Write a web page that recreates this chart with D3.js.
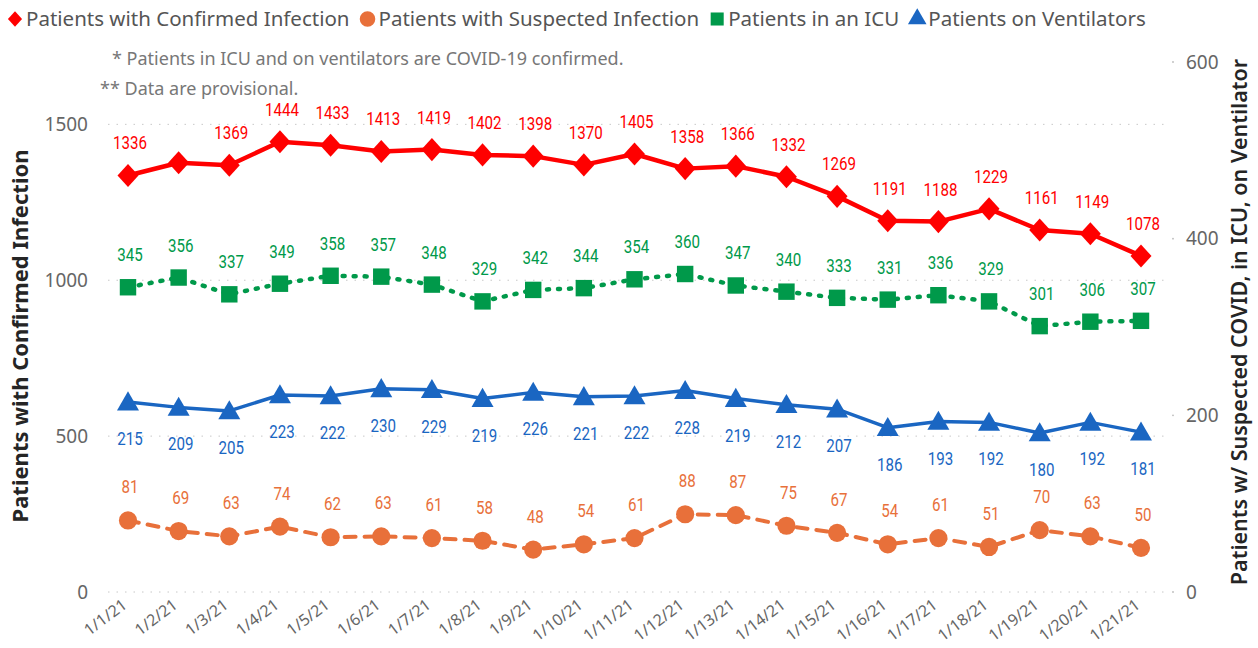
<!DOCTYPE html>
<html>
<head>
<meta charset="utf-8">
<title></title>
<script src="https://d3js.org/d3.v7.min.js"></script>
<style>
  body { margin: 0; background: #fff; }
  text { font-family: "Noto Sans", "Open Sans", sans-serif; }
  .grid line { stroke: #c8c8c8; stroke-dasharray: 1.5,7; }
  .tick-lbl { fill: #666; font-size: 19px; }
  .xlbl { fill: #666; font-size: 16px; }
  .legend text { fill: #555; font-size: 20.5px; }
  .note { fill: #777; font-size: 18px; }
  .dlbl { font-size: 18px; text-anchor: middle; font-family: "Roboto", sans-serif; }
</style>
</head>
<body>
<script>
// data
var dates = ["1/1/21","1/2/21","1/3/21","1/4/21","1/5/21","1/6/21","1/7/21","1/8/21","1/9/21","1/10/21","1/11/21",
             "1/12/21","1/13/21","1/14/21","1/15/21","1/16/21","1/17/21","1/18/21","1/19/21","1/20/21","1/21/21"];
var confirmed = [1336,1377,1369,1444,1433,1413,1419,1402,1398,1370,1405,1358,1366,1332,1269,1191,1188,1229,1161,1149,1078];
var confirmedHiddenLabels = [1]; // no label drawn for 1/2 in the original
var suspected = [81,69,63,74,62,63,61,58,48,54,61,88,87,75,67,54,61,51,70,63,50];
var icu = [345,356,337,349,358,357,348,329,342,344,354,360,347,340,333,331,336,329,301,306,307];
var ventilators = [215,209,205,223,222,230,229,219,226,221,222,228,219,212,207,186,193,192,180,192,181];
var leftTicks = [0,500,1000,1500];
var rightTicks = [0,200,400,600];

var width = 1258, height = 648;
var svg = d3.select("body").append("svg")
    .attr("width", width)
    .attr("height", height);

var x = d3.scalePoint().domain(dates).range([128, 1141]);
var yL = d3.scaleLinear().domain([0, 1700]).range([592, 62]);
var yR = d3.scaleLinear().domain([0, 600]).range([592, 62]);

// a squat diamond like the power bi marker
var wideDiamond = {
  draw: function(ctx, size) {
    var h = Math.sqrt(size) / 2;
    ctx.moveTo(0, -h * 1.1);
    ctx.lineTo(h, 0);
    ctx.lineTo(0, h * 1.1);
    ctx.lineTo(-h, 0);
    ctx.closePath();
  }
};

// gridlines (left axis)
svg.append("g").attr("class", "grid")
  .selectAll("line").data(leftTicks).enter().append("line")
    .attr("x1", 108).attr("x2", 1168)
    .attr("y1", function(d) { return yL(d); })
    .attr("y2", function(d) { return yL(d); });

// left tick labels
svg.append("g").selectAll("text").data(leftTicks).enter().append("text")
  .attr("class", "tick-lbl")
  .attr("x", 88).attr("y", function(d) { return yL(d); })
  .attr("dy", "0.35em").attr("text-anchor", "end")
  .text(function(d) { return d; });

// right tick labels + little tick dots
svg.append("g").selectAll("text").data(rightTicks).enter().append("text")
  .attr("class", "tick-lbl")
  .attr("x", 1186).attr("y", function(d) { return yR(d); })
  .attr("dy", "0.35em")
  .text(function(d) { return d; });
svg.append("g").selectAll("circle").data(rightTicks).enter().append("circle")
  .attr("cx", 1173).attr("cy", function(d) { return yR(d); })
  .attr("r", 0.9).attr("fill", "#bbb");

// x labels
svg.append("g").selectAll("text").data(dates).enter().append("text")
  .attr("class", "xlbl")
  .attr("text-anchor", "end")
  .attr("transform", function(d) { return "translate(" + (x(d) + 0) + ",607) rotate(-37)"; })
  .text(function(d) { return d; });

// axis titles
svg.append("text")
  .attr("transform", "translate(28,336) rotate(-90)")
  .attr("text-anchor", "middle")
  .style("font-size", "22px").style("font-weight", "bold").style("fill", "#252525")
  .text("Patients with Confirmed Infection");
svg.append("text")
  .attr("transform", "translate(1247,322) rotate(-90)")
  .attr("text-anchor", "middle")
  .style("font-size", "21.5px").style("font-weight", "600").style("fill", "#252525")
  .text("Patients w/ Suspected COVID, in ICU, on Ventilator");

// notes
svg.append("text").attr("class", "note").attr("x", 112).attr("y", 65)
  .text("* Patients in ICU and on ventilators are COVID-19 confirmed.");
svg.append("text").attr("class", "note").attr("x", 100).attr("y", 95)
  .text("** Data are provisional.");

var series = [
  { name: "Patients with Suspected Infection", values: suspected, y: yR, color: "#E8703A",
    shape: d3.symbolCircle, size: 260, dash: "11,9", width: 4, lblDy: -27, hidden: [] },
  { name: "Patients on Ventilators", values: ventilators, y: yR, color: "#1A66C2",
    shape: d3.symbolTriangle, size: 210, dash: null, width: 3.5, lblDy: 43, hidden: [] },
  { name: "Patients in an ICU", values: icu, y: yR, color: "#00994A",
    shape: d3.symbolSquare, size: 270, dash: "2,9", width: 4.5, lblDy: -26, hidden: [] },
  { name: "Patients with Confirmed Infection", values: confirmed, y: yL, color: "#FF0000",
    shape: wideDiamond, size: 440, dash: null, width: 4.5, lblDy: -26, hidden: confirmedHiddenLabels }
];

series.forEach(function(s) {
  var g = svg.append("g");
  var pts = s.values.map(function(v, i) { return { v: v, date: dates[i], i: i }; });
  var line = d3.line()
    .x(function(d) { return x(d.date); })
    .y(function(d) { return s.y(d.v); });
  g.append("path")
    .attr("d", line(pts))
    .attr("fill", "none")
    .attr("stroke", s.color)
    .attr("stroke-width", s.width)
    .attr("stroke-linecap", s.dash ? "round" : "butt")
    .attr("stroke-linejoin", "round")
    .attr("stroke-dasharray", s.dash);
  g.selectAll("path.mk").data(pts).enter().append("path")
    .attr("class", "mk")
    .attr("d", d3.symbol().type(s.shape).size(s.size))
    .attr("transform", function(d) {
      var ty = s.y(d.v) + (s.shape === d3.symbolTriangle ? 2 : 0);
      return "translate(" + x(d.date) + "," + ty + ")";
    })
    .attr("fill", s.color);
  // labels use a narrowed Roboto to look like the condensed DIN font
  g.selectAll("text").data(pts.filter(function(d) { return s.hidden.indexOf(d.i) < 0; }))
    .enter().append("text")
    .attr("class", "dlbl")
    .attr("transform", function(d) {
      return "translate(" + (x(d.date) + 2) + "," + (s.y(d.v) + s.lblDy) + ") scale(0.84,1)";
    })
    .attr("fill", s.color)
    .text(function(d) { return d.v; });
});

// legend, items laid out one after the other
var legendItems = [
  { name: "Patients with Confirmed Infection", color: "#FF0000", shape: wideDiamond, size: 200 },
  { name: "Patients with Suspected Infection", color: "#E8703A", shape: d3.symbolCircle, size: 190 },
  { name: "Patients in an ICU", color: "#00994A", shape: d3.symbolSquare, size: 170 },
  { name: "Patients on Ventilators", color: "#1A66C2", shape: d3.symbolTriangle, size: 150 }
];
var lg = svg.append("g").attr("class", "legend");
var lx = 15;
legendItems.forEach(function(it) {
  lg.append("path")
    .attr("d", d3.symbol().type(it.shape).size(it.size))
    .attr("transform", "translate(" + lx + ",19)")
    .attr("fill", it.color);
  var t = lg.append("text").attr("x", lx + 11).attr("y", 26).text(it.name);
  lx += 11 + t.node().getComputedTextLength() + 18;
});
</script>
</body>
</html>
